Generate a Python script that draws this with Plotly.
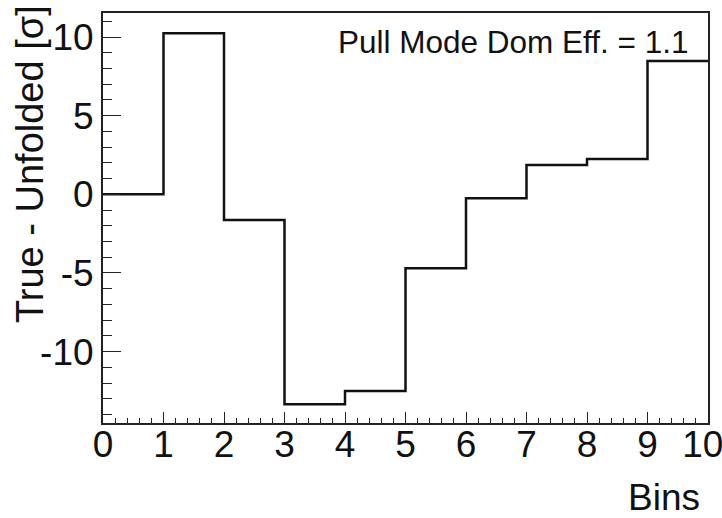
import plotly.graph_objects as go

bin_edges = [0, 1, 2, 3, 4, 5, 6, 7, 8, 9, 10]
pull_values = [0.0, 10.25, -1.63, -13.35, -12.5, -4.70, -0.25, 1.86, 2.24, 8.47]
x_tick_vals = [0, 1, 2, 3, 4, 5, 6, 7, 8, 9, 10]
x_tick_text = ["0", "1", "2", "3", "4", "5", "6", "7", "8", "9", "10\u00a0"]
y_tick_vals = [-10, -5, 0, 5, 10]
y_tick_text = ["-10", "-5", "0", "5", "10"]
label_text = "Pull Mode Dom Eff. = 1.1"
x_title = "Bins"
y_title = "True - Unfolded [σ]"

FONT = "Liberation Sans, Arial, sans-serif"
TICKFS = 37

fig = go.Figure()
fig.add_trace(go.Scatter(
    x=bin_edges,
    y=pull_values + [pull_values[-1]],
    mode="lines",
    line=dict(shape="hv", color="#111111", width=2.5),
    showlegend=False,
    hoverinfo="skip",
))

W, H = 722, 518
L, R, T, B = 103, 14, 13, 95
pw, ph = W - L - R, H - T - B

fig.update_layout(
    width=W, height=H,
    margin=dict(l=L, r=R, t=T, b=B, pad=0),
    paper_bgcolor="white", plot_bgcolor="white",
    font=dict(family=FONT, size=TICKFS, color="#111111"),
    xaxis=dict(
        range=[0, 10], tickvals=x_tick_vals, ticktext=x_tick_text,
        ticks="inside", ticklen=11, tickwidth=1.2,
        tickcolor="#222222", showgrid=False, zeroline=False,
        showline=True, linecolor="#222222", linewidth=2, mirror=True,
        minor=dict(dtick=0.2, ticks="inside", ticklen=5, tickcolor="#222222", tickwidth=1, showgrid=False),
        tickfont=dict(size=TICKFS), ticklabelstandoff=-12, ticklabeloverflow="allow",
        automargin=False,
    ),
    yaxis=dict(
        range=[-14.54, 11.53], tickvals=y_tick_vals, ticktext=y_tick_text,
        ticks="inside", ticklen=18, tickwidth=1.2,
        tickcolor="#222222", showgrid=False, zeroline=False,
        showline=True, linecolor="#222222", linewidth=2, mirror=True,
        minor=dict(dtick=1, ticks="inside", ticklen=9, tickcolor="#222222", tickwidth=1, showgrid=False),
        tickfont=dict(size=TICKFS), ticklabelstandoff=0, ticklabeloverflow="allow",
        automargin=False,
    ),
    annotations=[
        dict(text=label_text, xref="paper", yref="paper",
             x=(690 - L) / pw, y=(H - B - 42) / ph, xanchor="right", yanchor="middle",
             showarrow=False, font=dict(size=31.5, family=FONT, color="#111111")),
        dict(text=x_title, xref="paper", yref="paper",
             x=(702 - L) / pw, y=(H - B - 497) / ph, xanchor="right", yanchor="middle",
             showarrow=False, font=dict(size=TICKFS, family=FONT, color="#111111")),
        dict(text=y_title, xref="paper", yref="paper", textangle=-90,
             x=(30 - L) / pw, y=(H - B - 3) / ph, xanchor="center", yanchor="top",
             showarrow=False, font=dict(size=38, family=FONT, color="#111111")),
    ],
)

fig.write_html(
    "out.html",
    config={"displayModeBar": False},
    post_script="document.body.style.margin='0';document.body.style.overflow='hidden';",
)
